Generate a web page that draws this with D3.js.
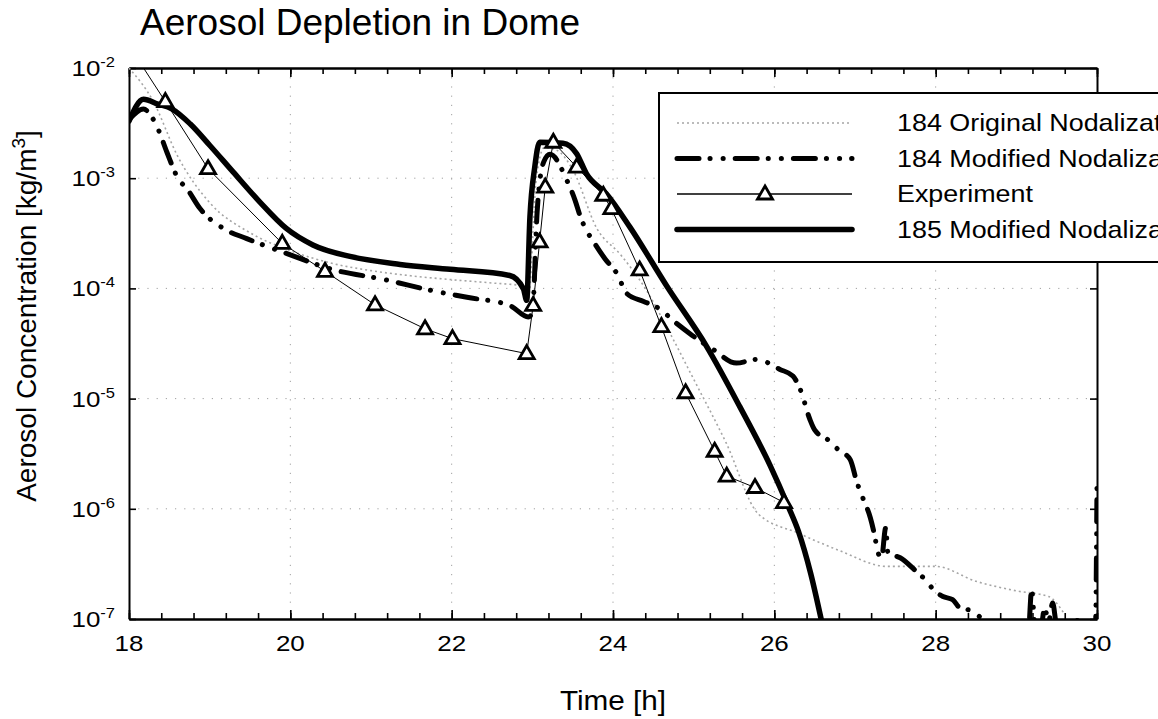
<!DOCTYPE html>
<html>
<head>
<meta charset="utf-8">
<script src="https://d3js.org/d3.v7.min.js"></script>
<style>
	body { margin: 0; background: #fff; }
	svg { display: block; font-family: "Liberation Sans", Arial, Helvetica, sans-serif; }
	.axis path, .axis line { stroke: #000; }
	.grid line { stroke: #a0a0a0; stroke-width: 1; stroke-dasharray: 1.2,8; }
</style>
</head>
<body>
<div id="chart"></div>
<script>
// time [h] and concentration [kg/m3]

var t184orig = [18.0, 18.3, 18.6, 19.0, 19.5, 20.0, 20.5, 21.0, 21.5, 22.0, 22.5, 22.9, 22.95, 23.05, 23.15, 23.3, 23.5, 23.8, 24.1, 24.4, 24.7, 25.0, 25.4, 25.8, 26.3, 26.8, 27.4, 28.0, 28.5, 29.0, 29.4, 29.6];
var c184orig = [1.0e-2, 5.0e-3, 1.6e-3, 6.0e-4, 3.2e-4, 2.2e-4, 1.7e-4, 1.45e-4, 1.3e-4, 1.2e-4, 1.12e-4, 1.05e-4, 8.0e-5, 1.0e-3, 1.9e-3, 1.8e-3, 1.2e-3, 3.5e-4, 2.0e-4, 1.0e-4, 4.0e-5, 1.5e-5, 4.0e-6, 9.0e-7, 6.0e-7, 4.2e-7, 3.0e-7, 3.0e-7, 2.2e-7, 1.8e-7, 1.6e-7, 1.1e-7];

var t184mod = [18.0, 18.18, 18.26, 18.36, 18.47, 18.61, 18.72, 18.88, 19.17, 19.46, 19.95, 20.53, 21.15, 21.77, 22.19, 22.72, 22.95, 23.0, 23.06, 23.14, 23.22, 23.43, 23.53, 23.59, 23.8, 23.9, 24.05, 24.17, 24.38, 24.54, 24.79, 24.95, 25.24, 25.53, 25.78, 26.07, 26.23, 26.32, 26.44, 26.5, 26.67, 26.8, 26.94, 27.02, 27.07, 27.13, 27.19, 27.25, 27.28, 27.33, 27.38, 27.41, 27.56, 27.76, 27.89, 27.97, 28.09, 28.21, 28.3, 28.42, 28.5, 28.57, 28.62, 29.15, 29.19, 29.23, 29.31, 29.35, 29.4, 29.45, 29.5, 29.7, 29.98, 30.0];
var c184mod = [3.4e-3, 4.25e-3, 3.8e-3, 2.8e-3, 1.72e-3, 9.9e-4, 8.0e-4, 5.3e-4, 3.5e-4, 2.83e-4, 2.08e-4, 1.48e-4, 1.21e-4, 9.5e-5, 8.3e-5, 7.0e-5, 5.5e-5, 6.0e-5, 5.0e-4, 1.4e-3, 1.65e-3, 9.5e-4, 6.3e-4, 4.6e-4, 2.38e-4, 1.86e-4, 1.36e-4, 9.0e-5, 7.6e-5, 6.8e-5, 4.8e-5, 3.9e-5, 2.8e-5, 2.1e-5, 2.27e-5, 1.84e-5, 1.6e-5, 1.22e-5, 6.5e-6, 5.2e-6, 4.2e-6, 3.4e-6, 2.8e-6, 1.78e-6, 1.4e-6, 1.1e-6, 8.3e-7, 5.4e-7, 4.1e-7, 3.6e-7, 6.7e-7, 3.9e-7, 3.6e-7, 2.7e-7, 2.2e-7, 1.85e-7, 1.6e-7, 1.5e-7, 1.26e-7, 1.2e-7, 1.1e-7, 1.0e-7, 8.0e-8, 8.0e-8, 1.86e-7, 9.0e-8, 9.0e-8, 1.26e-7, 9.5e-8, 1.4e-7, 9.0e-8, 9.9e-8, 8.0e-8, 1.7e-6];

var tExp = [18.0, 18.45, 18.98, 19.9, 20.43, 21.05, 21.67, 22.01, 22.93, 23.01, 23.09, 23.16, 23.26, 23.55, 23.88, 23.98, 24.33, 24.6, 24.9, 25.26, 25.41, 25.76, 26.12];
var cExp = [1.6e-2, 4.96e-3, 1.22e-3, 2.56e-4, 1.43e-4, 7.1e-5, 4.3e-5, 3.5e-5, 2.56e-5, 7.0e-5, 2.64e-4, 8.3e-4, 2.12e-3, 1.26e-3, 7.0e-4, 5.3e-4, 1.47e-4, 4.5e-5, 1.13e-5, 3.33e-6, 1.98e-6, 1.56e-6, 1.14e-6];

var t185mod = [18.0, 18.18, 18.36, 18.53, 18.76, 19.0, 19.29, 19.62, 19.95, 20.28, 20.74, 21.36, 21.98, 22.72, 22.89, 22.93, 22.97, 23.03, 23.09, 23.38, 23.55, 23.67, 23.92, 24.21, 24.67, 25.16, 25.57, 25.95, 26.17, 26.3, 26.45, 26.58];
var c185mod = [3.3e-3, 5.2e-3, 4.7e-3, 4.26e-3, 3.1e-3, 1.99e-3, 1.14e-3, 6.1e-4, 3.5e-4, 2.48e-4, 1.95e-4, 1.65e-4, 1.49e-4, 1.31e-4, 9.9e-5, 7.8e-5, 4.4e-4, 1.26e-3, 2.12e-3, 2.08e-3, 1.67e-3, 1.1e-3, 7.2e-4, 3.6e-4, 1.04e-4, 2.98e-5, 8.5e-6, 2.45e-6, 1.06e-6, 6.2e-7, 2.6e-7, 1.0e-7];

var legendLabels = ["184 Original Nodalization", "184 Modified Nodalization", "Experiment", "185 Modified Nodalization"];
var xTicks = [18, 20, 22, 24, 26, 28, 30];
var yTicks = [1e-7, 1e-6, 1e-5, 1e-4, 1e-3, 1e-2];
var yExp = [-7, -6, -5, -4, -3, -2];

function drawChart() {
	var width = 1158, height = 719;
	var pLeft = 129, pRight = 1097, pTop = 68, pBottom = 619;
	var stretch = "scale(1.18,1)";   // the scan's lettering is wider than it is tall

	var svg = d3.select("#chart").append("svg")
		.attr("width", width)
		.attr("height", height);

	var x = d3.scaleLinear().domain([18, 30]).range([pLeft, pRight]);
	var y = d3.scaleLog().domain([1e-7, 1e-2]).range([pBottom, pTop]);

	svg.append("defs").append("clipPath").attr("id", "plotclip")
		.append("rect").attr("x", pLeft).attr("y", pTop).attr("width", pRight - pLeft).attr("height", pBottom - pTop);

	// dotted grid
	var grid = svg.append("g").attr("class", "grid");
	grid.selectAll(".gx").data(xTicks.slice(1, -1)).enter().append("line")
		.attr("x1", function (d) { return x(d); }).attr("x2", function (d) { return x(d); })
		.attr("y1", pTop).attr("y2", pBottom);
	grid.selectAll(".gy").data(yTicks.slice(1, -1)).enter().append("line")
		.attr("x1", pLeft).attr("x2", pRight)
		.attr("y1", function (d) { return y(d); }).attr("y2", function (d) { return y(d); });

	// axes, ticks pointing inward
	var minorX = d3.range(0, 31).map(function (i) { return 18 + i * 0.4; });

	function styleAxis(g) {
		g.attr("class", "axis");
		g.select(".domain").attr("stroke-width", 2);
		g.selectAll(".tick line").attr("stroke-width", 1.6);
	}

	svg.append("g").attr("transform", "translate(0," + pBottom + ")")
		.call(d3.axisBottom(x).tickValues(minorX).tickSize(-6).tickSizeOuter(0).tickFormat(""))
		.call(styleAxis);
	svg.append("g").attr("transform", "translate(0," + pBottom + ")")
		.call(d3.axisBottom(x).tickValues(xTicks).tickSize(-9).tickSizeOuter(0).tickFormat(""))
		.call(styleAxis);
	svg.append("g").attr("transform", "translate(0," + pTop + ")")
		.call(d3.axisTop(x).tickValues(minorX).tickSize(-6).tickSizeOuter(0).tickFormat(""))
		.call(styleAxis);
	svg.append("g").attr("transform", "translate(0," + pTop + ")")
		.call(d3.axisTop(x).tickValues(xTicks).tickSize(-9).tickSizeOuter(0).tickFormat(""))
		.call(styleAxis);
	svg.append("g").attr("transform", "translate(" + pLeft + ",0)")
		.call(d3.axisLeft(y).tickValues(yTicks).tickSize(-7).tickSizeOuter(0).tickFormat(""))
		.call(styleAxis);
	svg.append("g").attr("transform", "translate(" + pRight + ",0)")
		.call(d3.axisRight(y).tickValues(yTicks).tickSize(-7).tickSizeOuter(0).tickFormat(""))
		.call(styleAxis);

	// x tick labels
	svg.append("g").selectAll("text").data(xTicks).enter().append("text")
		.attr("transform", function (d) { return "translate(" + x(d) + ",651) " + stretch; })
		.attr("text-anchor", "middle")
		.attr("font-size", 22)
		.text(function (d) { return d; });

	// y tick labels as 10 with superscript exponent
	var ylab = svg.append("g").selectAll("text").data(yTicks).enter().append("text")
		.attr("transform", function (d) { return "translate(" + (pLeft - 14) + "," + (y(d) + 8) + ") " + stretch; })
		.attr("text-anchor", "end")
		.attr("font-size", 22);
	ylab.append("tspan").text("10");
	ylab.append("tspan").attr("dy", -9).attr("font-size", 14)
		.text(function (d, i) { return yExp[i]; });

	// series
	function pts(ts, cs) {
		return ts.map(function (t, i) { return { t: t, c: cs[i] }; });
	}
	var line = d3.line()
		.curve(d3.curveMonotoneX)
		.x(function (d) { return x(d.t); })
		.y(function (d) { return y(d.c); });
	var straight = d3.line()
		.x(function (d) { return x(d.t); })
		.y(function (d) { return y(d.c); });

	var plot = svg.append("g").attr("clip-path", "url(#plotclip)");

	var styles = [
		{ stroke: "#a5a5a5", width: 1.6, dash: "2,3", cap: "butt" },
		{ stroke: "#000", width: 5, dash: "22,11,0.1,13,0.1,12", cap: "round" },
		{ stroke: "#000", width: 1, dash: null, cap: "butt" },
		{ stroke: "#000", width: 5.5, dash: null, cap: "round" }
	];

	var series = [pts(t184orig, c184orig), pts(t184mod, c184mod), pts(tExp, cExp), pts(t185mod, c185mod)];

	series.forEach(function (s, i) {
		plot.append("path").datum(s)
			.attr("d", i == 2 ? straight : line)
			.attr("fill", "none")
			.attr("stroke", styles[i].stroke)
			.attr("stroke-width", styles[i].width)
			.attr("stroke-dasharray", styles[i].dash)
			.attr("stroke-linecap", styles[i].cap)
			.attr("stroke-linejoin", "round");
	});

	var tri = "M0,-8L7.5,5L-7.5,5Z";
	plot.selectAll(".tri").data(series[2]).enter().append("path")
		.attr("d", tri)
		.attr("transform", function (d) { return "translate(" + x(d.t) + "," + y(d.c) + ")"; })
		.attr("fill", "#fff").attr("stroke", "#000").attr("stroke-width", 2.8);

	// legend, runs off the right edge like the scan
	var lg = svg.append("g");
	lg.append("rect").attr("x", 659).attr("y", 93).attr("width", 600).attr("height", 169)
		.attr("fill", "#fff").attr("stroke", "#000").attr("stroke-width", 2);

	legendLabels.forEach(function (lab, i) {
		var ly = 123 + i * 35.5;
		lg.append("line").attr("x1", 677).attr("x2", 852).attr("y1", ly).attr("y2", ly)
			.attr("stroke", i == 2 ? "#000" : styles[i].stroke)
			.attr("stroke-width", i == 2 ? 1.3 : styles[i].width)
			.attr("stroke-dasharray", styles[i].dash)
			.attr("stroke-linecap", styles[i].cap);
		if (i == 2) {
			lg.append("path").attr("d", tri).attr("transform", "translate(765," + ly + ")")
				.attr("fill", "#fff").attr("stroke", "#000").attr("stroke-width", 2.8);
		}
		lg.append("text").attr("transform", "translate(897," + (ly + 8) + ") scale(1.12,1)")
			.attr("font-size", 24).text(lab);
	});

	// titles
	svg.append("text").attr("x", 140).attr("y", 35).attr("font-size", 37).text("Aerosol Depletion in Dome");
	svg.append("text").attr("transform", "translate(" + ((pLeft + pRight) / 2) + ",710) scale(1.1,1)")
		.attr("text-anchor", "middle")
		.attr("font-size", 27).text("Time [h]");
	var yt = svg.append("text").attr("transform", "translate(36,316) rotate(-90)")
		.attr("text-anchor", "middle").attr("font-size", 28);
	yt.append("tspan").text("Aerosol Concentration [kg/m");
	yt.append("tspan").attr("dy", -11).attr("font-size", 19).text("3");
	yt.append("tspan").attr("dy", 11).text("]");
}

drawChart();
</script>
</body>
</html>
